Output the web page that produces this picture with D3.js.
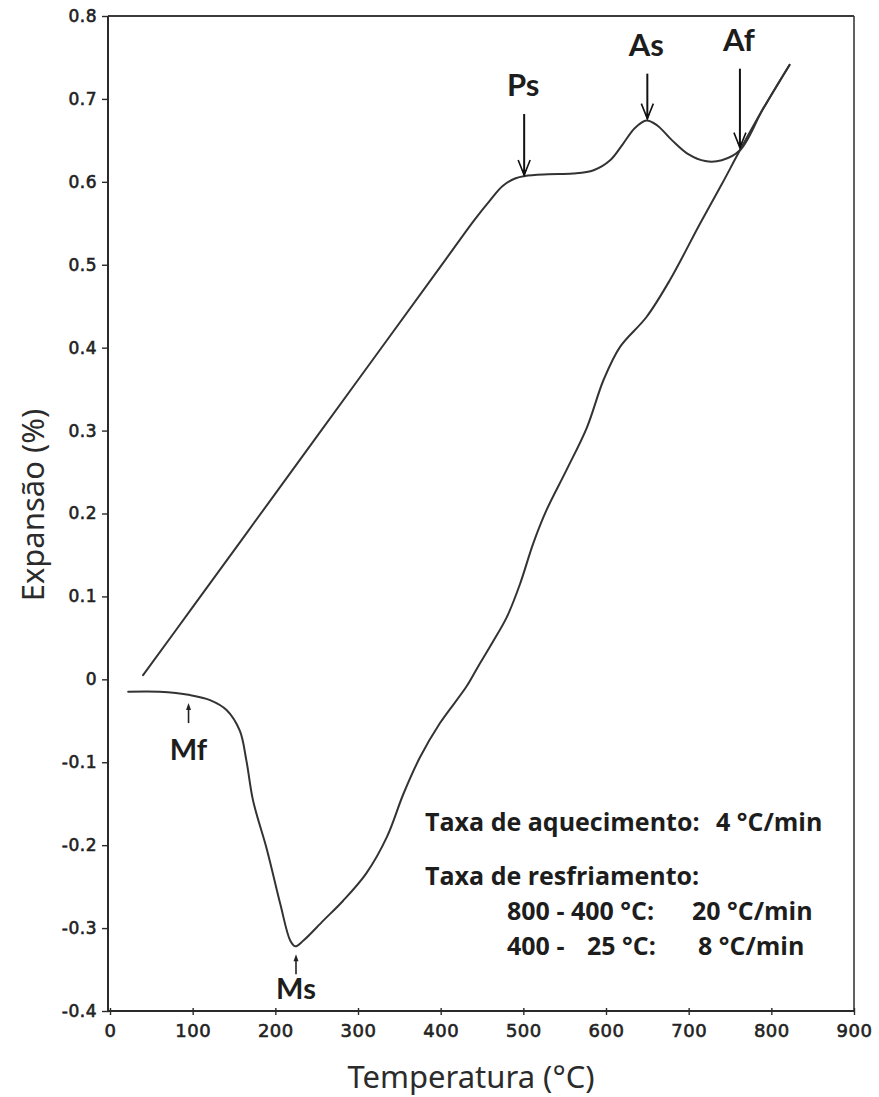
<!DOCTYPE html>
<html>
<head>
<meta charset="utf-8">
<script src="https://cdn.jsdelivr.net/npm/d3@7"></script>
<style>
  html, body { margin: 0; padding: 0; background: #fff; }
  svg { display: block; }
</style>
</head>
<body>
<svg id="chart" width="879" height="1097"></svg>
<script>
// Axis ticks
const tempTicks = [0, 100, 200, 300, 400, 500, 600, 700, 800, 900];
const expTicks = [-0.4, -0.3, -0.2, -0.1, 0, 0.1, 0.2, 0.3, 0.4, 0.5, 0.6, 0.7, 0.8];

// Heating branch: temperature (°C) and expansion (%)
const heatT = [40, 100, 200, 300, 400, 440, 460, 475, 490, 502, 530, 560, 585, 605, 620, 635, 649, 662, 680, 700, 720, 740, 762, 790, 822];
const heatV = [0.005, 0.087, 0.224, 0.361, 0.498, 0.553, 0.578, 0.595, 0.604, 0.607, 0.609, 0.610, 0.614, 0.626, 0.645, 0.665, 0.674, 0.668, 0.650, 0.633, 0.625, 0.626, 0.638, 0.688, 0.741];

// Cooling branch: temperature (°C) and expansion (%)
const coolT = [822, 790, 762, 740, 714, 677, 649, 617, 597, 577, 552, 528, 512, 496, 480, 463, 445, 431, 399, 375, 355, 335, 310, 282, 258, 234, 224, 218, 206, 190, 173, 165, 157, 141, 121, 97, 60, 22];
const coolV = [0.741, 0.688, 0.638, 0.597, 0.550, 0.481, 0.437, 0.401, 0.361, 0.304, 0.252, 0.204, 0.164, 0.115, 0.075, 0.045, 0.015, -0.009, -0.053, -0.094, -0.138, -0.190, -0.234, -0.267, -0.291, -0.315, -0.322, -0.315, -0.271, -0.206, -0.146, -0.098, -0.062, -0.037, -0.025, -0.019, -0.015, -0.015];

// Transformation points marked on the curves
const markerNames = ["Ps", "As", "Af", "Mf", "Ms"];
const markerT = [501, 650, 762, 95, 225];
const markerV = [0.607, 0.675, 0.640, -0.019, -0.322];
const markerDir = ["down", "down", "down", "up", "up"];

// Rate notes
const heatingLabel = "Taxa de aquecimento:";
const heatingRate = "4 °C/min";
const coolingLabel = "Taxa de resfriamento:";
const coolingFrom = ["800 - 400 °C:", "400 -"];
const coolingTo = ["", "25 °C:"];
const coolingRate = ["20 °C/min", "8 °C/min"];

const svg = d3.select("#chart");
const W = 879, H = 1097;
const margin = { left: 110, right: 25, top: 16, bottom: 86 };

const x = d3.scaleLinear().domain([0, 900]).range([margin.left, W - margin.right]);
const y = d3.scaleLinear().domain([-0.4, 0.8]).range([H - margin.bottom, margin.top]);

const ink = "#2a2a2a";

// Frame: top and right edges
svg.append("line")
  .attr("x1", x(0) - 2).attr("x2", x(900))
  .attr("y1", y(0.8)).attr("y2", y(0.8))
  .attr("stroke", "#3a3a3a").attr("stroke-width", 1.8);
svg.append("line")
  .attr("x1", x(900)).attr("x2", x(900))
  .attr("y1", y(0.8)).attr("y2", y(-0.4))
  .attr("stroke", "#3a3a3a").attr("stroke-width", 1.6);

// Bottom axis
const xAxis = d3.axisBottom(x).tickValues(tempTicks).tickSize(4).tickPadding(9).tickFormat(d3.format("d"));
const gx = svg.append("g").attr("transform", `translate(0,${y(-0.4)})`).call(xAxis);
gx.select(".domain").attr("stroke", ink).attr("stroke-width", 2).attr("d", `M${x(0) - 2},0H${x(900)}`);
gx.selectAll(".tick line").attr("stroke", ink).attr("stroke-width", 1.4).attr("y1", -3);
gx.selectAll(".tick text")
  .attr("fill", "#222").attr("font-family", "DejaVu Sans").attr("font-size", 18)
  .attr("stroke", "#222").attr("stroke-width", 0.6)
  .attr("letter-spacing", 0.5);

// Left axis
const fmtY = d => d === 0 ? "0" : d3.format(".1f")(d).replace("−", "-");
const yAxis = d3.axisLeft(y).tickValues(expTicks).tickSize(6).tickPadding(5).tickFormat(fmtY);
const gy = svg.append("g").attr("transform", `translate(${x(0) - 2},0)`).call(yAxis);
gy.select(".domain").attr("stroke", ink).attr("stroke-width", 2).attr("d", `M0,${y(0.8)}V${y(-0.4)}`);
gy.selectAll(".tick line").attr("stroke", ink).attr("stroke-width", 1.4).attr("x2", -6).attr("x1", 1);
gy.selectAll(".tick text")
  .attr("fill", "#222").attr("font-family", "DejaVu Sans").attr("font-size", 17)
  .attr("stroke", "#222").attr("stroke-width", 0.6)
  .attr("letter-spacing", 0.5);

// Curves
const line = d3.line()
  .x(d => x(d[0]))
  .y(d => y(d[1]))
  .curve(d3.curveCatmullRom.alpha(0.5));

const heating = heatT.map((t, i) => [t, heatV[i]]);
const cooling = coolT.map((t, i) => [t, coolV[i]]);

[heating, cooling].forEach(pts => {
  svg.append("path")
    .attr("d", line(pts))
    .attr("fill", "none")
    .attr("stroke", "#333")
    .attr("stroke-width", 2)
    .attr("stroke-linejoin", "round")
    .attr("stroke-linecap", "round");
});

// Markers with arrows
const labelFont = "Lato";
markerNames.forEach((name, i) => {
  const px = x(markerT[i]);
  const py = y(markerV[i]);
  const g = svg.append("g");
  if (markerDir[i] === "down") {
    const len = name === "Ps" ? 62 : name === "As" ? 46 : 80;
    g.append("line")
      .attr("x1", px).attr("x2", px).attr("y1", py - len).attr("y2", py - 1)
      .attr("stroke", "#111").attr("stroke-width", 2);
    g.append("path")
      .attr("d", `M${px - 6},${py - 16}L${px},${py - 1}L${px + 6},${py - 16}`)
      .attr("fill", "none").attr("stroke", "#111").attr("stroke-width", 1.6);
    g.append("path")
      .attr("d", `M${px - 2.5},${py - 6}L${px},${py}L${px + 2.5},${py - 6}Z`)
      .attr("fill", "#111");
    g.append("text")
      .attr("x", px - 1).attr("y", py - len - 18)
      .attr("text-anchor", "middle")
      .attr("font-family", labelFont).attr("font-weight", 700).attr("font-size", 31)
      .attr("fill", "#1d1d1d")
      .text(name);
  } else {
    const top = py + 8;
    g.append("line")
      .attr("x1", px).attr("x2", px).attr("y1", top + 4).attr("y2", top + 20)
      .attr("stroke", "#222").attr("stroke-width", 1.6);
    g.append("path")
      .attr("d", `M${px - 2.5},${top + 7}L${px},${top}L${px + 2.5},${top + 7}Z`)
      .attr("fill", "#222");
    g.append("text")
      .attr("x", px).attr("y", top + (name === "Mf" ? 57 : 45))
      .attr("text-anchor", "middle")
      .attr("font-family", labelFont).attr("font-weight", 700).attr("font-size", 29)
      .attr("fill", "#1d1d1d")
      .text(name);
  }
});

// Rate notes
const notes = svg.append("g")
  .attr("font-family", "Open Sans").attr("font-weight", 700).attr("font-size", 25)
  .attr("fill", "#1d1d1d");
notes.append("text").attr("x", 425).attr("y", 831).text(heatingLabel);
notes.append("text").attr("x", 716).attr("y", 831).text(heatingRate);
notes.append("text").attr("x", 425).attr("y", 885).text(coolingLabel);
const rateX = [692, 698];
const toX = [587, 587];
coolingFrom.forEach((f, i) => {
  const by = 920 + i * 35;
  notes.append("text").attr("x", 507).attr("y", by).text(f);
  if (coolingTo[i]) notes.append("text").attr("x", toX[i]).attr("y", by).text(coolingTo[i]);
  notes.append("text").attr("x", rateX[i]).attr("y", by).text(coolingRate[i]);
});

// Axis titles
svg.append("text")
  .attr("x", 471).attr("y", 1088)
  .attr("text-anchor", "middle")
  .attr("font-family", "Noto Sans").attr("font-size", 31)
  .attr("fill", "#2b2b2b")
  .text("Temperatura (°C)");

svg.append("text")
  .attr("transform", `translate(44,505) rotate(-90)`)
  .attr("text-anchor", "middle")
  .attr("font-family", "Noto Sans").attr("font-size", 31)
  .attr("fill", "#2b2b2b")
  .text("Expansão (%)");
</script>
</body>
</html>
